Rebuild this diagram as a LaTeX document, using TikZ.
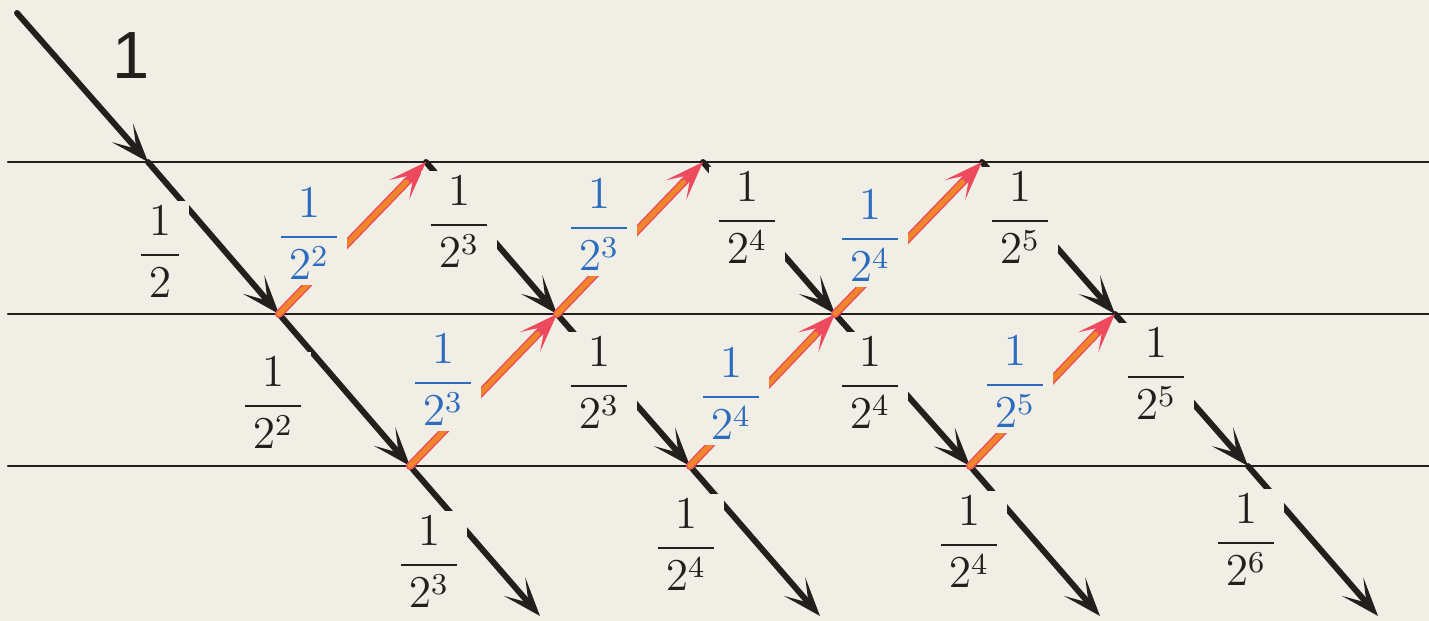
\documentclass[tikz,border=0pt]{standalone}
\usepackage{fontspec}
\newfontfamily\numsans{Liberation Sans}
\usetikzlibrary{arrows.meta}
\definecolor{ink}{HTML}{231F1C}
\definecolor{paper}{HTML}{F1EEE6}
\definecolor{wblue}{HTML}{2C6CBE}
\definecolor{worange}{HTML}{F0862A}
\definecolor{wred}{HTML}{EE4A5E}
\tikzset{el/.style={line cap=round, line join=round},
  rule/.style={ink, line width=0.7pt},
  downarr/.style={ink, line width=1.7pt, -{Stealth[length=11pt, width=8pt, inset=6pt]}},
  uparr/.style={wred, line width=2.3pt, -{Stealth[length=11pt, width=8pt, inset=6pt]},
     postaction={draw=worange, line width=1.5pt, -, shorten >=8pt}},
  frac/.style={fill=paper, inner sep=1.4pt, yshift=0.9pt, scale=1.08, transform shape, font=\large},
  bfrac/.style={frac, text=ink},
  ufrac/.style={frac, text=wblue}}
\newcommand{\invpow}[1]{$\displaystyle\frac{1}{\,2^{#1}\,}$}

\begin{document}
\begin{tikzpicture}[el]
  \fill[paper] (0,0) rectangle (14.29,-6.21);
  \useasboundingbox (0,0) rectangle (14.29,-6.21);
  % crossings on the three rules
  \coordinate (S) at (0.17,-0.13);
  \foreach \k/\tx/\mx/\bx in {0/1.48/2.79/4.10, 1/4.26/5.57/6.90, 2/7.03/8.35/9.70, 3/9.82/11.15/12.48}{
     \coordinate (T\k) at (\tx,-1.62);
     \coordinate (M\k) at (\mx,-3.14);
     \coordinate (B\k) at (\bx,-4.66);
     \coordinate (E\k) at ({\bx+1.30},-6.16);}
  \foreach \ry in {-1.62,-3.14,-4.66}
     \draw[rule] (0.08,\ry) -- (14.29,\ry);
  \foreach \a/\b in {S/T0, T0/M0, M0/B0, B0/E0, T1/M1, M1/B1, B1/E1, T2/M2, M2/B2, B2/E2, T3/M3, M3/B3, B3/E3}
     \draw[downarr] (\a) -- (\b);
  \foreach \a/\b in {M0/T1, B0/M1, M1/T2, B1/M2, M2/T3, B2/M3}
     \draw[uparr] (\a) -- (\b);
  % labels
  \node[text=ink, font=\numsans\fontsize{19}{22}\selectfont] (one) at (1.31,-0.56) {1};
  \node[bfrac] (d0) at (1.60,-2.55) {$\displaystyle\frac{1}{\,2\,}$};
  \foreach \nm/\px/\py/\e in {d1/2.73/-4.06/2, d2/4.29/-5.65/3, d3/4.59/-2.25/3, d4/5.99/-3.86/3,
     d5/6.86/-5.48/4, d6/7.47/-2.21/4, d7/8.70/-3.86/4, d8/9.69/-5.45/4,
     d9/10.20/-2.21/5, d10/11.56/-3.77/5, d11/12.46/-5.43/6}
     \node[bfrac] (\nm) at (\px,\py) {\invpow{\e}};
  \foreach \nm/\px/\py/\e in {u1/3.09/-2.37/2, u2/4.43/-3.83/3, u3/5.99/-2.28/3,
     u4/7.31/-3.97/4, u5/8.70/-2.39/4, u6/10.15/-3.85/5}
     \node[ufrac] (\nm) at (\px,\py) {\invpow{\e}};
\end{tikzpicture}
\end{document}
